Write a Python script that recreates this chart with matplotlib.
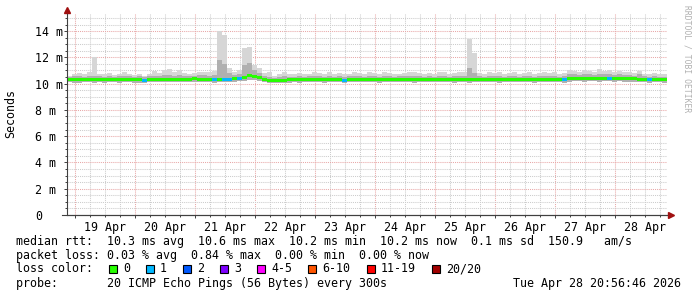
import numpy as np
import pandas as pd
import matplotlib
matplotlib.use("Agg")
import matplotlib.pyplot as plt
import matplotlib.dates as mdates
from matplotlib.ticker import MultipleLocator, FuncFormatter, NullFormatter
from matplotlib.patches import Rectangle


# ---------------------------------------------------------
# Data (2 hour blocks)
# ---------------------------------------------------------

block_start = "2026-04-18 21:00"
window = ("2026-04-18 20:56:46", "2026-04-28 20:56:46")

median_rtt = [
    10.30, 10.30, 10.28, 10.30, 10.32, 10.30, 10.30, 10.28, 10.30, 10.30,
    10.30, 10.32, 10.30, 10.30, 10.28, 10.25, 10.32, 10.35, 10.35, 10.33,
    10.30, 10.35, 10.35, 10.30, 10.35, 10.38, 10.35, 10.35, 10.30, 10.28,
    10.35, 10.30, 10.30, 10.38, 10.42, 10.50, 10.60, 10.55, 10.45, 10.30,
    10.25, 10.25, 10.22, 10.25, 10.28, 10.30, 10.28, 10.30, 10.30, 10.32,
    10.30, 10.28, 10.30, 10.30, 10.30, 10.26, 10.30, 10.30, 10.32, 10.30,
    10.30, 10.30, 10.28, 10.30, 10.30, 10.30, 10.32, 10.30, 10.30, 10.28,
    10.30, 10.30, 10.30, 10.32, 10.30, 10.30, 10.30, 10.28, 10.30, 10.30,
    10.28, 10.30, 10.30, 10.32, 10.30, 10.30, 10.28, 10.30, 10.30, 10.30,
    10.32, 10.30, 10.30, 10.28, 10.30, 10.30, 10.30, 10.32, 10.30, 10.28,
    10.40, 10.42, 10.42, 10.40, 10.42, 10.42, 10.40, 10.42, 10.42, 10.40,
    10.42, 10.40, 10.38, 10.40, 10.30, 10.30, 10.28, 10.30, 10.30, 10.28,
]

# pings lost per block (index into loss_colors)
loss_level = [
    0, 0, 0, 0, 0, 0, 0, 0, 0, 0,
    0, 0, 0, 0, 0, 1, 0, 0, 0, 0,
    0, 0, 0, 0, 0, 0, 0, 0, 0, 1,
    0, 1, 1, 0, 1, 0, 0, 0, 0, 0,
    0, 0, 0, 0, 0, 0, 0, 0, 0, 0,
    0, 0, 0, 0, 0, 1, 0, 0, 0, 0,
    0, 0, 0, 0, 0, 0, 0, 0, 0, 0,
    0, 0, 0, 0, 0, 0, 0, 0, 0, 0,
    0, 0, 0, 0, 0, 0, 0, 0, 0, 0,
    0, 0, 0, 0, 0, 0, 0, 0, 0, 1,
    0, 0, 0, 0, 0, 0, 0, 0, 1, 0,
    0, 0, 0, 0, 0, 0, 1, 0, 0, 0,
]

smoke_min = [
    10.10, 10.08, 10.08, 10.10, 10.10, 10.08, 10.10, 10.08, 10.10, 10.10,
    10.08, 10.10, 10.10, 10.08, 10.08, 10.06, 10.10, 10.12, 10.12, 10.10,
    10.10, 10.12, 10.12, 10.10, 10.12, 10.14, 10.12, 10.12, 10.10, 10.08,
    10.12, 10.10, 10.10, 10.14, 10.18, 10.22, 10.26, 10.24, 10.18, 10.10,
    10.06, 10.06, 10.04, 10.06, 10.08, 10.10, 10.08, 10.10, 10.10, 10.10,
    10.10, 10.08, 10.10, 10.10, 10.10, 10.06, 10.10, 10.10, 10.10, 10.10,
    10.10, 10.10, 10.08, 10.10, 10.10, 10.10, 10.10, 10.10, 10.10, 10.08,
    10.10, 10.10, 10.10, 10.10, 10.10, 10.10, 10.10, 10.08, 10.10, 10.10,
    10.08, 10.10, 10.10, 10.10, 10.10, 10.10, 10.08, 10.10, 10.10, 10.10,
    10.10, 10.10, 10.10, 10.08, 10.10, 10.10, 10.10, 10.10, 10.10, 10.08,
    10.16, 10.18, 10.18, 10.16, 10.18, 10.18, 10.16, 10.18, 10.18, 10.16,
    10.18, 10.16, 10.14, 10.16, 10.10, 10.10, 10.08, 10.10, 10.10, 10.08,
]

smoke_mid = [
    10.50, 10.55, 10.55, 10.50, 10.55, 10.60, 10.55, 10.50, 10.55, 10.50,
    10.55, 10.60, 10.55, 10.50, 10.55, 10.50, 10.55, 10.60, 10.60, 10.65,
    10.65, 10.60, 10.65, 10.60, 10.55, 10.60, 10.65, 10.65, 10.60, 10.65,
    11.80, 11.50, 10.80, 10.65, 10.70, 11.40, 11.60, 11.00, 10.80, 10.55,
    10.50, 10.45, 10.50, 10.55, 10.50, 10.50, 10.55, 10.50, 10.55, 10.55,
    10.55, 10.50, 10.55, 10.50, 10.55, 10.50, 10.55, 10.55, 10.55, 10.50,
    10.55, 10.55, 10.50, 10.55, 10.55, 10.50, 10.55, 10.55, 10.60, 10.55,
    10.55, 10.50, 10.55, 10.50, 10.55, 10.60, 10.50, 10.55, 10.55, 10.60,
    11.20, 10.80, 10.55, 10.50, 10.55, 10.55, 10.60, 10.50, 10.55, 10.55,
    10.50, 10.55, 10.55, 10.50, 10.55, 10.60, 10.55, 10.55, 10.50, 10.55,
    10.70, 10.70, 10.65, 10.70, 10.70, 10.65, 10.75, 10.70, 10.70, 10.65,
    10.70, 10.65, 10.65, 10.60, 10.70, 10.55, 10.50, 10.55, 10.50, 10.50,
]

smoke_max = [
    10.60, 10.75, 10.80, 10.70, 10.85, 12.00, 10.75, 10.70, 10.80, 10.65,
    10.70, 10.90, 10.70, 10.65, 10.75, 10.60, 10.70, 10.95, 10.80, 11.00,
    11.10, 10.85, 11.00, 10.80, 10.75, 10.80, 10.90, 10.90, 10.85, 10.95,
    14.00, 13.70, 11.20, 10.90, 11.00, 12.70, 12.80, 11.40, 11.20, 10.80,
    10.90, 10.60, 10.70, 10.85, 10.70, 10.75, 10.80, 10.70, 10.75, 10.85,
    10.80, 10.70, 10.85, 10.75, 10.80, 10.70, 10.75, 10.85, 10.80, 10.75,
    10.90, 10.80, 10.75, 10.85, 10.80, 10.70, 10.75, 10.80, 10.90, 10.85,
    10.80, 10.75, 10.80, 10.70, 10.85, 10.90, 10.75, 10.80, 10.85, 10.90,
    13.40, 12.30, 10.80, 10.75, 10.85, 10.80, 10.90, 10.75, 10.80, 10.85,
    10.75, 10.80, 10.85, 10.75, 10.80, 10.90, 10.80, 10.85, 10.75, 10.80,
    11.00, 10.95, 10.90, 11.00, 10.95, 10.90, 11.10, 10.95, 11.00, 10.90,
    10.95, 10.85, 10.90, 10.80, 10.95, 10.75, 10.70, 10.80, 10.75, 10.70,
]

y_ticks = [0, 2, 4, 6, 8, 10, 12, 14]
y_tick_labels = ["0", "2 m", "4 m", "6 m", "8 m", "10 m", "12 m", "14 m"]

loss_labels = ["0", "1", "2", "3", "4-5", "6-10", "11-19", "20/20"]
loss_colors = ["#26ff00", "#00b8ff", "#0059ff", "#7e00ff",
               "#ff00ff", "#ff5500", "#ff0000", "#a10000"]

stats_lines = [
    "median rtt:  10.3 ms avg  10.6 ms max  10.2 ms min  10.2 ms now  0.1 ms sd  150.9   am/s",
    "packet loss: 0.03 % avg  0.84 % max  0.00 % min  0.00 % now",
]
probe_line = "probe:       20 ICMP Echo Pings (56 Bytes) every 300s"
stamp = "Tue Apr 28 20:56:46 2026"


# ---------------------------------------------------------
# Figure setup
# ---------------------------------------------------------

mono = "DejaVu Sans Mono"
fs = 8.4
W, H = 697, 297

fig = plt.figure(figsize=(W / 100, H / 100), dpi=100)
fig.patch.set_facecolor("white")

ax = fig.add_axes([67 / W, (H - 215) / H, 600 / W, 201 / H])

edges = mdates.date2num(pd.date_range(block_start, periods=len(median_rtt) + 1, freq="2h"))
widths = np.diff(edges)

# smoke: outer pings light, inner pings darker
ax.stairs(smoke_mid, edges, baseline=smoke_min, fill=True, color="#b0b0b0", zorder=2)
ax.stairs(smoke_max, edges, baseline=smoke_mid, fill=True, color="#d6d6d6", zorder=2)

# median as a thin band coloured by loss
band = 0.23
ax.bar(edges[:-1], band, bottom=np.array(median_rtt) - band / 2, width=widths,
       align="edge", color=[loss_colors[k] for k in loss_level], linewidth=0, zorder=3)

ax.set_xlim(mdates.date2num(pd.Timestamp(window[0])), mdates.date2num(pd.Timestamp(window[1])))
ax.set_ylim(0, 15.3)

# grid
ax.xaxis.set_major_locator(mdates.DayLocator())
ax.xaxis.set_minor_locator(mdates.HourLocator(byhour=[0, 6, 12, 18]))
ax.xaxis.set_major_formatter(NullFormatter())


def day_label(v, pos):
    d = mdates.num2date(v)
    return d.strftime("%d %b") if d.hour == 12 else ""


ax.xaxis.set_minor_formatter(FuncFormatter(day_label))
ax.yaxis.set_major_locator(MultipleLocator(2))
ax.yaxis.set_minor_locator(MultipleLocator(0.5))
ax.set_yticks(y_ticks, y_tick_labels)

ax.grid(which="major", color="#e8a8a8", linestyle=(0, (1, 1)), linewidth=0.75)
ax.grid(which="minor", color="#cccccc", linestyle=(0, (1, 1)), linewidth=0.75)
ax.set_axisbelow(True)

ax.tick_params(which="both", direction="out", colors="#404040", labelcolor="black",
               labelsize=fs, width=0.7)
ax.tick_params(which="major", length=2.5)
ax.tick_params(which="minor", length=1.5)
ax.tick_params(axis="x", which="minor", pad=2.5)
ax.tick_params(axis="y", which="major", pad=20.5)
for lab in ax.get_yticklabels():
    lab.set_fontfamily(mono)
    lab.set_ha("left")
for lab in ax.get_xticklabels(minor=True):
    lab.set_fontfamily(mono)

ax.spines["top"].set_visible(False)
ax.spines["right"].set_visible(False)
for side in ["left", "bottom"]:
    ax.spines[side].set_color("#404040")
    ax.spines[side].set_linewidth(0.8)
    ax.spines[side].set_zorder(4)

# axis arrows
ax.plot([-0.008, 1.0], [0, 0], color="#404040", lw=0.8, transform=ax.transAxes, clip_on=False)
ax.plot([0], [1.018], marker="^", ms=4, color="#a01010", transform=ax.transAxes, clip_on=False)
ax.plot([1.007], [0], marker=">", ms=4, color="#a01010", transform=ax.transAxes, clip_on=False)


# ---------------------------------------------------------
# Legend / labels in pixel space
# ---------------------------------------------------------

over = fig.add_axes([0, 0, 1, 1], zorder=-1)
over.set_xlim(0, W)
over.set_ylim(H, 0)
over.axis("off")

over.text(11, 114, "Seconds", rotation=90, ha="center", va="center", family=mono, fontsize=fs)
over.text(687, 5, "RRDTOOL / TOBI OETIKER", rotation=270, ha="center", va="top",
          family=mono, fontsize=5.8, color="#b0b0b0")

for i, line in enumerate(stats_lines):
    over.text(16, 241 + 14 * i, line, ha="left", va="center", family=mono, fontsize=fs)

over.text(16, 269, "loss color:", ha="left", va="center", family=mono, fontsize=fs)
char_w = 7.05
lx = 123
for lab, col in zip(loss_labels, loss_colors):
    over.add_patch(Rectangle((lx - 14, 265), 8, 8, facecolor=col, edgecolor="black", lw=0.8))
    over.text(lx, 269, lab, ha="left", va="center", family=mono, fontsize=fs)
    lx += len(lab) * char_w + 30

over.text(16, 283, probe_line, ha="left", va="center", family=mono, fontsize=fs)
over.text(681, 283, stamp, ha="right", va="center", family=mono, fontsize=fs)

fig.savefig("out.png", dpi=100)
plt.close()
